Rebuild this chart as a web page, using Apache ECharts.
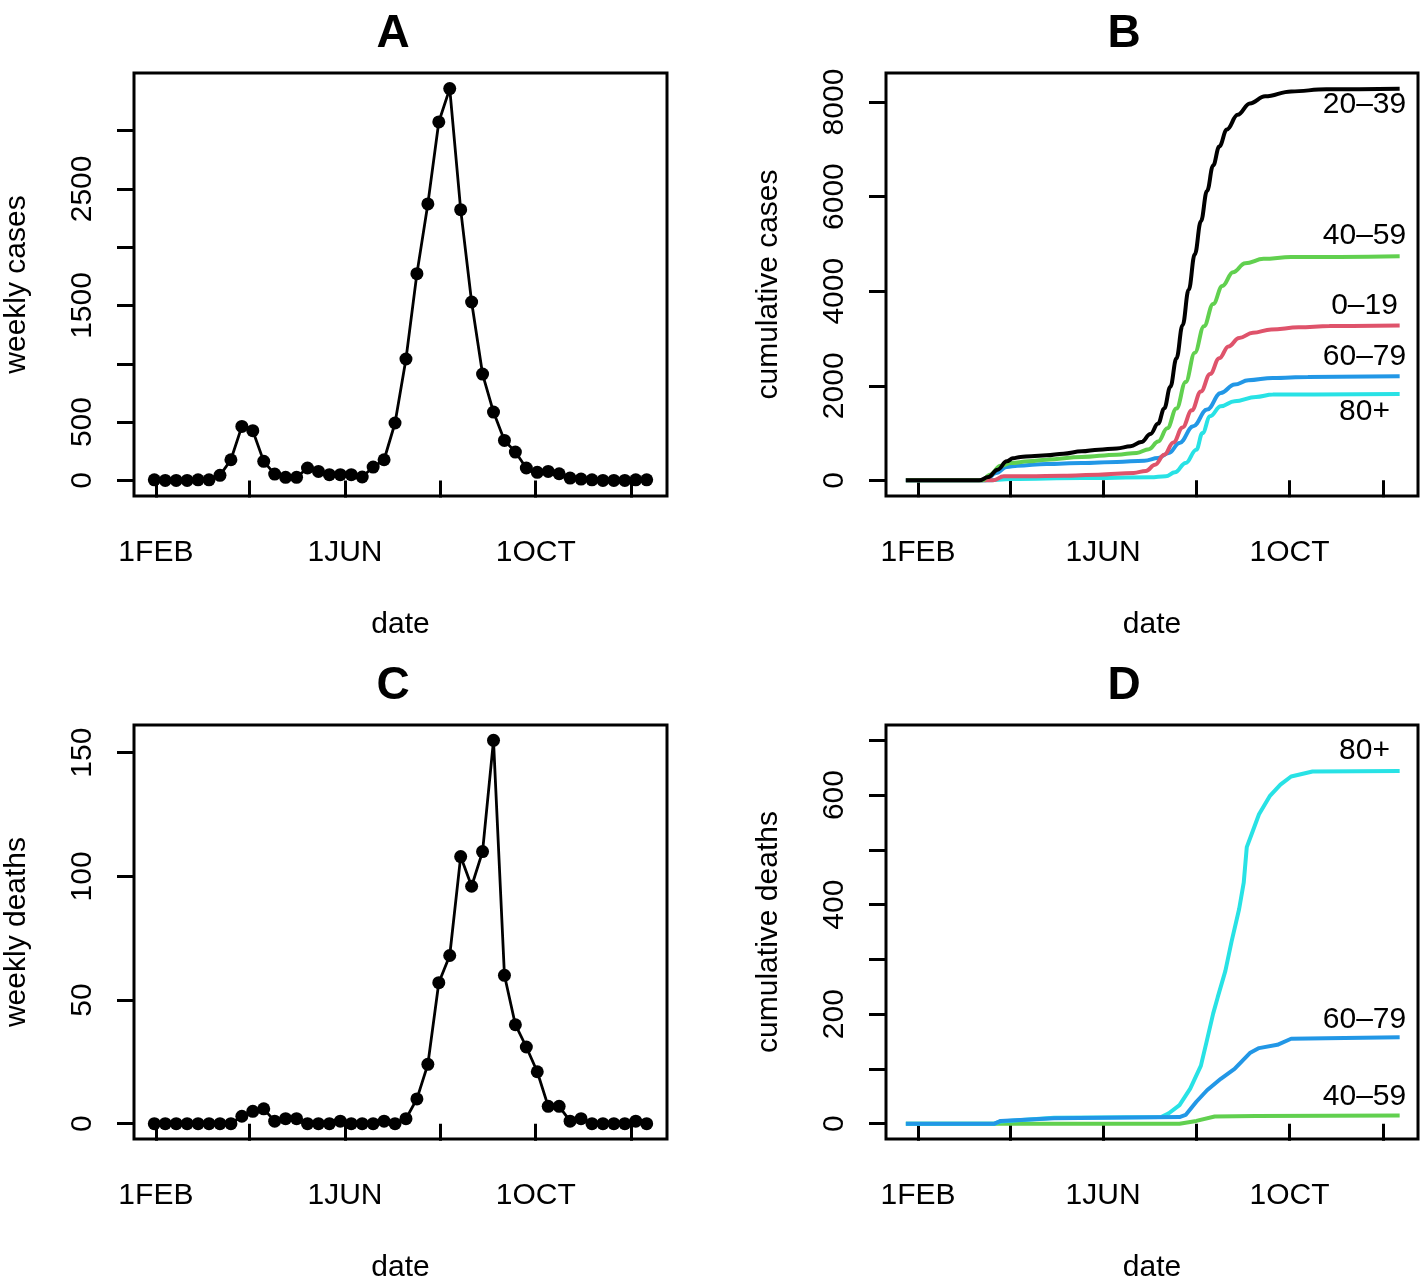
<!DOCTYPE html>
<html><head><meta charset="utf-8">
<script src="https://cdn.jsdelivr.net/npm/echarts@6/dist/echarts.min.js"></script>
<style>html,body{margin:0;padding:0;background:#fff}#c{width:1424px;height:1284px}</style>
</head><body><div id="c"></div>
<script>
// x values are days of 2020 counted from 1 Jan (= 0)
const tickDays = [31, 91, 152, 213, 274, 335];
const labelDays = [31, 152, 274];
const tickNames = {31: '1FEB', 152: '1JUN', 274: '1OCT'};
const firstWeekDay = 30; // weekly points, one every 7 days

const weeklyCases = [5, 0, 0, 0, 5, 5, 43, 177, 463, 426, 163, 54, 26, 26, 106, 77, 49, 49, 49, 29,
  114, 177, 492, 1041, 1773, 2371, 3074, 3360, 2322, 1530, 912, 586, 343, 243, 106, 69, 77, 57, 20, 11,
  5, 0, 0, 0, 5, 5];
const weeklyDeaths = [0, 0, 0, 0, 0, 0, 0, 0, 3, 5, 6, 1, 2, 2, 0, 0, 0, 1, 0, 0,
  0, 1, 0, 2, 10, 24, 57, 68, 108, 96, 110, 155, 60, 40, 31, 21, 7, 7, 1, 2,
  0, 0, 0, 0, 1, 0];

// cumulative cases by age group: [day, cases]
const cumCases_0_19 = [[23,0],[80,0],[87,85],[103,85],[126,99],[149,120],[172,155],[180,200],[186,330],[192,540],[198,800],[204,1120],[210,1480],[216,1880],[222,2250],[228,2580],[234,2830],[241,3010],[250,3120],[262,3190],[280,3235],[300,3262],[346,3273]];
const cumCases_20_39 = [[23,0],[71,0],[77,71],[83,226],[89,402],[93,465],[98,495],[105,512],[115,529],[126,564],[138,614],[149,649],[161,675],[170,720],[177,810],[183,980],[188,1200],[192,1520],[196,1980],[200,2580],[204,3280],[208,4030],[212,4780],[216,5480],[220,6120],[224,6660],[228,7060],[233,7420],[240,7730],[248,7970],[258,8120],[275,8225],[298,8268],[346,8283]];
const cumCases_40_59 = [[23,0],[73,0],[78,120],[85,310],[92,367],[103,402],[115,437],[138,494],[161,543],[174,580],[182,660],[188,820],[194,1100],[200,1520],[206,2080],[212,2700],[218,3260],[224,3730],[230,4110],[237,4400],[245,4590],[257,4685],[275,4722],[346,4741]];
const cumCases_60_79 = [[23,0],[75,0],[82,155],[89,282],[96,310],[115,346],[138,367],[161,388],[179,416],[188,473],[195,578],[202,790],[211,1143],[220,1496],[229,1848],[238,2025],[247,2117],[263,2166],[286,2187],[346,2201]];
const cumCases_80p = [[23,0],[75,0],[92,28],[138,49],[183,63],[193,85],[199,169],[206,367],[213,649],[217,1000],[222,1355],[229,1566],[238,1672],[252,1764],[263,1813],[346,1827]];

// cumulative deaths by age group: [day, deaths]
const cumDeaths_40_59 = [[23,0],[202,0],[213,5],[225,13],[252,14],[346,15]];
const cumDeaths_60_79 = [[23,0],[81,0],[85,5],[120,10],[202,12],[206,16],[213,40],[220,61],[229,82],[238,100],[248,129],[254,138],[266,144],[275,155],[298,156],[346,158]];
const cumDeaths_80p = [[23,0],[81,0],[85,4],[120,11],[190,12],[195,19],[202,34],[209,64],[216,106],[220,153],[224,201],[227,231],[232,279],[236,332],[241,392],[244,440],[246,505],[250,535],[254,565],[261,598],[268,619],[275,634],[289,643],[346,644]];

const caseGroups = ['80+', '60\u201379', '0\u201319', '40\u201359', '20\u201339'];
const deathGroups = ['40\u201359', '80+', '60\u201379'];

const F = '"Liberation Sans", Arial, Helvetica, sans-serif';
const COL = {'0\u201319': '#DF536B', '20\u201339': '#000000', '40\u201359': '#61D04F', '60\u201379': '#2297E6', '80+': '#28E2E5'};

const grids = [
  {left: 134, top: 73, width: 533, height: 423},
  {left: 886, top: 73, width: 532, height: 423},
  {left: 134, top: 725, width: 533, height: 423},
  {left: 886, top: 725, width: 532, height: 423}
].map(g => Object.assign({show: true, borderColor: '#000', borderWidth: 3, backgroundColor: 'transparent'}, g));

function xAx(gi, min) {
  return {type: 'value', gridIndex: gi, min: min, max: 358,
    name: 'date', nameLocation: 'middle', nameGap: 114,
    nameTextStyle: {fontSize: 30, color: '#000', fontFamily: F},
    axisLine: {show: false}, splitLine: {show: false},
    axisTick: {show: true, customValues: tickDays, length: 17, lineStyle: {color: '#000', width: 3}},
    axisLabel: {customValues: labelDays, formatter: v => tickNames[v] || '', fontSize: 30, color: '#000', fontFamily: F, margin: 42}};
}
function yAx(gi, min, max, ticks, labs, name) {
  return {type: 'value', gridIndex: gi, min: min, max: max,
    name: name, nameLocation: 'middle', nameGap: 102, nameRotate: 90,
    nameTextStyle: {fontSize: 30, color: '#000', fontFamily: F},
    axisLine: {show: false}, splitLine: {show: false},
    axisTick: {show: true, customValues: ticks, length: 17, lineStyle: {color: '#000', width: 3}},
    axisLabel: {customValues: labs, formatter: v => String(v), rotate: 90, fontSize: 30, color: '#000', fontFamily: F, margin: 36}};
}

const weekX = i => firstWeekDay + 7 * i;

function weekly(idx, vals) {
  return {type: 'line', xAxisIndex: idx, yAxisIndex: idx, data: vals.map((v, i) => [weekX(i), v]),
    symbol: 'circle', symbolSize: 13, lineStyle: {color: '#000', width: 2.8}, itemStyle: {color: '#000'}, z: 3};
}
function cum(idx, name, data, smooth, labelCoord) {
  return {type: 'line', name: name, xAxisIndex: idx, yAxisIndex: idx, data: data, showSymbol: false,
    smooth: smooth, smoothMonotone: 'x',
    lineStyle: {color: COL[name], width: 4}, itemStyle: {color: COL[name]},
    markPoint: {symbol: 'circle', symbolSize: 1, itemStyle: {color: 'rgba(0,0,0,0)'},
      label: {show: true, position: 'inside', formatter: name, color: '#000', fontSize: 30, fontFamily: F},
      data: [{coord: labelCoord}]}};
}

const caseData = {'0\u201319': cumCases_0_19, '20\u201339': cumCases_20_39, '40\u201359': cumCases_40_59, '60\u201379': cumCases_60_79, '80+': cumCases_80p};
const caseLabelY = {'20\u201339': 7937, '40\u201359': 5178, '0\u201319': 3697, '60\u201379': 2617, '80+': 1453};
const deathData = {'40\u201359': cumDeaths_40_59, '60\u201379': cumDeaths_60_79, '80+': cumDeaths_80p};
const deathLabelY = {'80+': 681, '60\u201379': 189, '40\u201359': 49};
const labelDay = 323;

const series = [weekly(0, weeklyCases), weekly(2, weeklyDeaths)];
caseGroups.forEach(g => series.push(cum(1, g, caseData[g], 0.4, [labelDay, caseLabelY[g]])));
deathGroups.forEach(g => series.push(cum(3, g, deathData[g], false, [labelDay, deathLabelY[g]])));

const titleStyle = {fontSize: 46, fontWeight: 'bold', color: '#000', fontFamily: F};
const option = {
  animation: false,
  backgroundColor: '#fff',
  title: [
    {text: 'A', left: 388, top: 6, textAlign: 'center', textStyle: titleStyle},
    {text: 'B', left: 1119, top: 6, textAlign: 'center', textStyle: titleStyle},
    {text: 'C', left: 388, top: 658, textAlign: 'center', textStyle: titleStyle},
    {text: 'D', left: 1119, top: 658, textAlign: 'center', textStyle: titleStyle}
  ],
  grid: grids,
  xAxis: [xAx(0, 17), xAx(1, 10), xAx(2, 17), xAx(3, 10)],
  yAxis: [
    yAx(0, -134, 3494, [0, 500, 1000, 1500, 2000, 2500, 3000], [0, 500, 1500, 2500], 'weekly cases'),
    yAx(1, -331, 8614, [0, 2000, 4000, 6000, 8000], [0, 2000, 4000, 6000, 8000], 'cumulative cases'),
    yAx(2, -6.2, 161.2, [0, 50, 100, 150], [0, 50, 100, 150], 'weekly deaths'),
    yAx(3, -28, 728, [0, 100, 200, 300, 400, 500, 600, 700], [0, 200, 400, 600], 'cumulative deaths')
  ],
  series: series
};
const chart = echarts.init(document.getElementById('c'), null, {renderer: 'canvas'});
chart.setOption(option);
</script></body></html>
